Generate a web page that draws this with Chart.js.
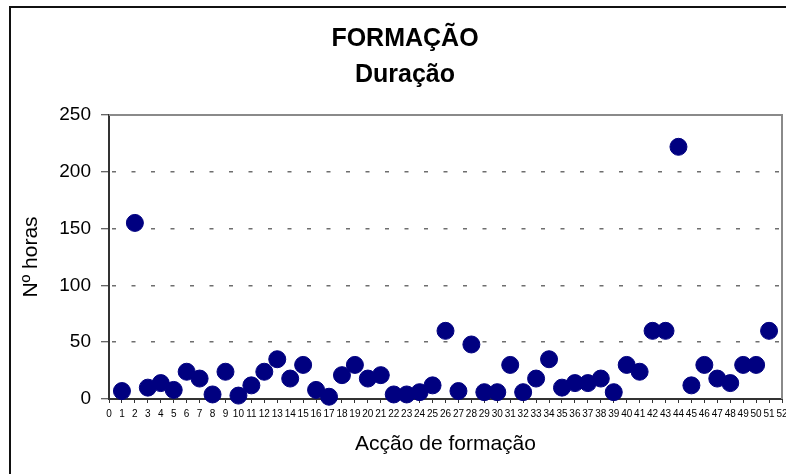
<!DOCTYPE html>
<html>
<head>
<meta charset="utf-8">
<script src="https://cdn.jsdelivr.net/npm/chart.js@4"></script>
<style>
  html, body { margin: 0; padding: 0; background: #fff; }
  #wrap { width: 786px; height: 474px; }
</style>
</head>
<body>
<div id="wrap"><canvas id="duracao" width="786" height="474"></canvas></div>
<script>
// Acções de formação (eixo x) e duração em horas (eixo y)
const acoes = [1, 2, 3, 4, 5, 6, 7, 8, 9, 10, 11, 12, 13, 14, 15, 16, 17, 18, 19, 20, 21, 22, 23, 24, 25, 26,
               27, 28, 29, 30, 31, 32, 33, 34, 35, 36, 37, 38, 39, 40, 41, 42, 43, 44, 45, 46, 47, 48, 49, 50, 51];
const horas = [7, 155, 10, 14, 8, 24, 18, 4, 24, 3, 12, 24, 35, 18, 30, 8, 2, 21, 30, 18, 21, 4, 4, 6, 12, 60,
               7, 48, 6, 6, 30, 6, 18, 35, 10, 14, 14, 18, 6, 30, 24, 60, 60, 222, 12, 30, 18, 14, 30, 30, 60];
const tituloLinhas = ['FORMAÇÃO', 'Duração'];
const eixoX = 'Acção de formação';
const eixoY = 'Nº horas';

const pontos = acoes.map((a, i) => ({ x: a, y: horas[i] }));
const FONT = "'Liberation Sans', Arial, sans-serif";

// moldura exterior + bordas cinzentas do topo e da direita da área do gráfico
const molduras = {
  id: 'molduras',
  beforeDraw(chart) {
    const ctx = chart.ctx;
    ctx.save();
    ctx.strokeStyle = '#111';
    ctx.lineWidth = 2;
    ctx.beginPath();
    ctx.moveTo(10, 480); ctx.lineTo(10, 7); ctx.lineTo(800, 7);
    ctx.stroke();
    ctx.restore();
  },
  beforeDatasetsDraw(chart) {
    const { ctx, chartArea: a } = chart;
    ctx.save();
    ctx.strokeStyle = '#8a8a8a';
    ctx.lineWidth = 2;
    ctx.beginPath();
    ctx.moveTo(a.left, a.top); ctx.lineTo(a.right, a.top); ctx.lineTo(a.right, a.bottom);
    ctx.stroke();
    ctx.restore();
  }
};

new Chart(document.getElementById('duracao'), {
  type: 'scatter',
  data: {
    datasets: [{
      data: pontos,
      backgroundColor: '#000080',
      borderColor: '#000080',
      pointRadius: 8.5,
      pointBorderWidth: 1,
      pointHoverRadius: 8.5,
      clip: false
    }]
  },
  plugins: [molduras],
  options: {
    responsive: false,
    animation: false,
    layout: { autoPadding: false, padding: { left: 28, right: 4, top: 7, bottom: 17 } },
    plugins: {
      legend: { display: false },
      tooltip: { enabled: false },
      title: {
        display: true,
        text: tituloLinhas,
        color: '#000',
        font: { family: FONT, size: 25, weight: 'bold', lineHeight: 1.44 },
        padding: { top: 14, bottom: 22 }
      }
    },
    scales: {
      x: {
        type: 'linear',
        min: 0,
        max: 52,
        afterFit(s) { s.height = 58; s.paddingLeft = 0; s.paddingRight = 0; },
        ticks: {
          stepSize: 1,
          autoSkip: false,
          maxRotation: 0,
          padding: 5,
          color: '#000',
          font: { family: FONT, size: 10 }
        },
        grid: {
          drawOnChartArea: false,
          drawTicks: true,
          tickLength: 4,
          tickColor: '#333',
          tickWidth: 1
        },
        border: { color: '#333', width: 2 },
        title: {
          display: true,
          text: eixoX,
          color: '#000',
          font: { family: FONT, size: 21 },
          padding: { top: 0, bottom: 0 }
        }
      },
      y: {
        min: 0,
        max: 250,
        afterFit(s) { s.width = 81; s.paddingTop = 0; s.paddingBottom = 0; },
        ticks: {
          stepSize: 50,
          padding: 10,
          color: '#000',
          font: { family: FONT, size: 19 }
        },
        grid: {
          color: c => (c.tick && (c.tick.value === 0 || c.tick.value === 250)) ? 'rgba(0,0,0,0)' : '#6e6e6e',
          lineWidth: 1.5,
          drawTicks: true,
          tickLength: 8,
          tickColor: '#333',
          tickWidth: 1,
          tickBorderDash: []
        },
        border: { color: '#333', width: 2, dash: [4, 15.5], dashOffset: -2 },
        title: {
          display: true,
          text: eixoY,
          color: '#000',
          font: { family: FONT, size: 21, lineHeight: 1 },
          padding: { top: -7, bottom: 0 }
        }
      }
    }
  }
});
</script>
</body>
</html>
